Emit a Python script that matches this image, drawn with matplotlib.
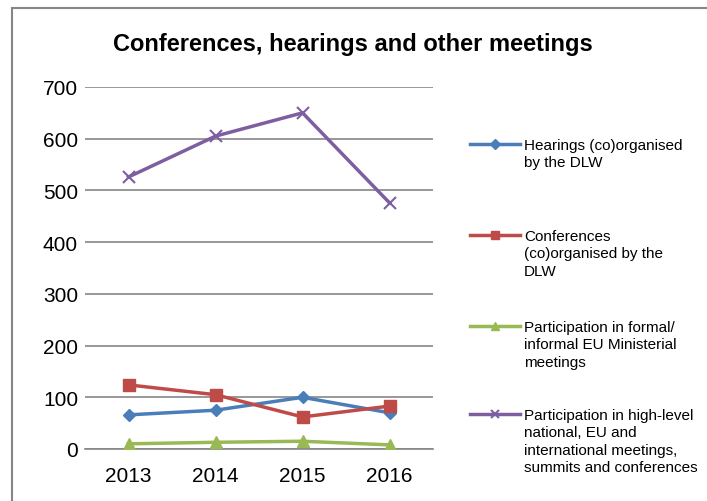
import matplotlib.pyplot as plt
from matplotlib.lines import Line2D
from matplotlib.patches import Rectangle

plt.rcParams['font.family'] = ['Liberation Sans', 'DejaVu Sans']

# Yearly counts per meeting type
years = ['2013', '2014', '2015', '2016']
hearings = [66, 75, 100, 70]
conferences = [124, 105, 62, 83]
ministerial = [10, 13, 15, 8]
high_level = [526, 605, 650, 476]

labels = [
    'Hearings (co)organised\nby the DLW',
    'Conferences\n(co)organised by the\nDLW',
    'Participation in formal/\ninformal EU Ministerial\nmeetings',
    'Participation in high-level\nnational, EU and\ninternational meetings,\nsummits and conferences',
]
colors = ['#4a7ebb', '#be4b48', '#98b954', '#7d5fa0']
markers = ['D', 's', '^', 'x']
series = [hearings, conferences, ministerial, high_level]

fig = plt.figure(figsize=(7.07, 5.02), dpi=100)
ax = fig.add_axes([85 / 707, 1 - 450 / 502, 348 / 707, 362 / 502])

x = range(len(years))
for vals, c, m in zip(series, colors, markers):
    ms = {'D': 6, 's': 8, '^': 8, 'x': 8}[m]
    ax.plot(x, vals, color=c, lw=2.5, marker=m, ms=ms, mew=1.5 if m == 'x' else 1,
            mec=c, mfc=c, zorder=3)

ax.set_xlim(-0.5, 3.5)
ax.set_ylim(0, 700)
ax.set_yticks(range(0, 701, 100))
ax.set_xticks(list(x))
ax.set_xticklabels(years)
ax.tick_params(axis='both', length=0, labelsize=15)
ax.tick_params(axis='y', pad=5)
ax.tick_params(axis='x', pad=12)
ax.grid(axis='y', color='#868686', lw=1.2)
ax.set_axisbelow(True)
for s in ['left', 'right', 'top']:
    ax.spines[s].set_visible(False)
ax.spines['bottom'].set_color('#868686')
ax.spines['bottom'].set_linewidth(1.2)

fig.text(353 / 707, 1 - 44 / 502, 'Conferences, hearings and other meetings',
         ha='center', va='center', fontsize=17, fontweight='bold')

# Legend entries, line marker aligned with first text line
legend_y = [145, 236, 327, 415]
for y, c, m, lab in zip(legend_y, colors, markers, labels):
    yf = 1 - y / 502
    fig.add_artist(Line2D([470 / 707, 520 / 707], [yf, yf], color=c, lw=2.5))
    fig.add_artist(Line2D([495 / 707], [yf], color=c, marker=m, ms=6 if m != 'D' else 5,
                          mec=c, mfc=c, mew=1.5 if m == 'x' else 1))
    fig.text(524 / 707, yf + 6 / 502, lab, ha='left', va='top', fontsize=11,
             linespacing=1.3)

# Outer chart frame (only top and left edges fall inside the image)
fig.add_artist(Rectangle((12 / 707, -10 / 502), 720 / 707, 503 / 502, fill=False,
                         ec='#868686', lw=1.5, transform=fig.transFigure))

fig.savefig('out.png', dpi=100)
